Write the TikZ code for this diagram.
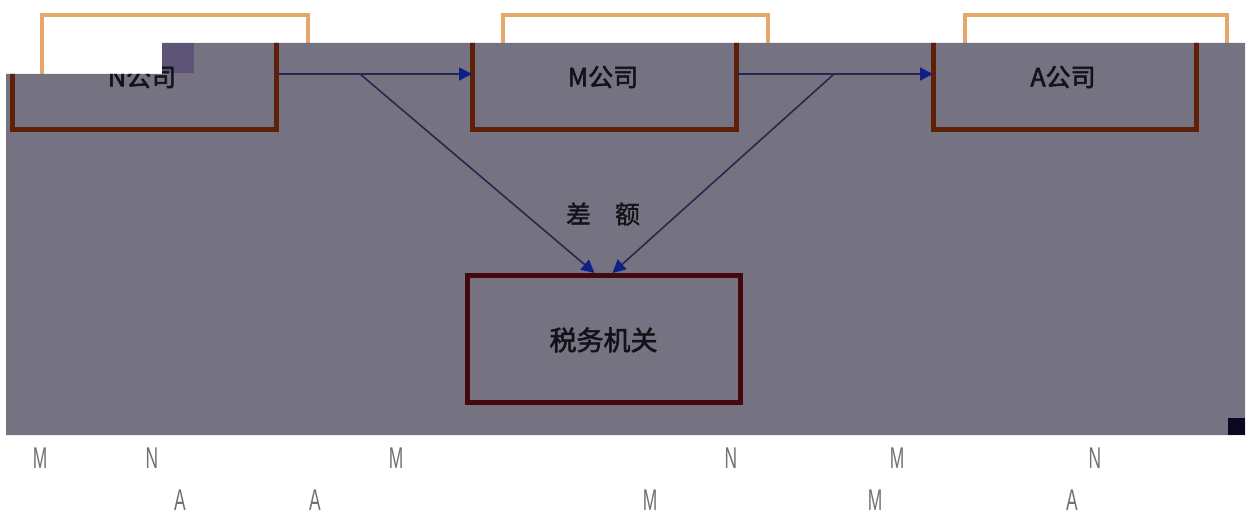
\documentclass[tikz,border=0pt]{standalone}
\usepackage{fontspec}
\usetikzlibrary{arrows.meta}
\newfontfamily\cjk{Noto Sans CJK SC}[FakeBold=1.2]
\newfontfamily\cjkb{Noto Sans CJK SC}[FakeBold=2.2]
\newfontfamily\libsans{Liberation Sans}
\definecolor{bggray}{HTML}{757282}
\definecolor{lorange}{HTML}{E6A86A}
\definecolor{dbrown}{HTML}{5E2006}
\definecolor{maroon}{HTML}{42080E}
\definecolor{navy}{HTML}{262850}
\definecolor{tipblue}{HTML}{101E88}
\definecolor{txt}{HTML}{121218}
\definecolor{letter}{HTML}{707070}
\definecolor{patch}{HTML}{5E5478}
\definecolor{corner}{HTML}{0A0820}
\tikzset{
  company/.style={minimum width=264pt, minimum height=112pt, inner sep=0pt, outer sep=0pt},
  ghost/.style={draw=lorange, line width=4pt},
  brownside/.style={draw=dbrown, line width=5pt},
  taxbox/.style={draw=maroon, line width=5pt, minimum width=273pt, minimum height=127pt, inner sep=0pt, outer sep=0pt},
  boxtext/.style={font=\cjkb\fontsize{25}{25}\selectfont, text=txt},
  flow/.style={draw=navy, line width=1.6pt, -{Triangle[length=13pt,width=13pt,color=tipblue]}},
  letterstyle/.style={font=\libsans\fontsize{30}{30}\selectfont, text=letter, xscale=0.58, inner sep=0pt}
}
\begin{document}
\begin{tikzpicture}[x=1pt,y=-1pt]
\useasboundingbox (0,0) rectangle (1250,516);
% light orange outlines peeking above
\draw[ghost] (42,80) -- (42,15) -- (308,15) -- (308,80);
\draw[ghost] (503,80) -- (503,15) -- (768,15) -- (768,80);
\draw[ghost] (965,80) -- (965,15) -- (1227,15) -- (1227,80);
% gray panel
\fill[bggray] (6,74) -- (162,74) -- (162,43) -- (1245,43) -- (1245,435) -- (6,435) -- cycle;
\fill[patch] (162,43) rectangle (194,73);
\fill[corner] (1228,418) rectangle (1245,435);
% company nodes
\node[company] (N) at (144,74) {};
\node[company] (M) at (604,74) {};
\node[company, minimum width=263pt] (A) at (1064.5,74) {};
\begin{scope}
\clip (6,74) -- (162,74) -- (162,43) -- (1245,43) -- (1245,435) -- (6,435) -- cycle;
\draw[brownside] (N.north west) -- (N.south west) -- (N.south east) -- (N.north east);
\draw[brownside] (M.north west) -- (M.south west) -- (M.south east) -- (M.north east);
\draw[brownside] (A.north west) -- (A.south west) -- (A.south east) -- (A.north east);
\node[boxtext] (Nt) at (142,77) {N公司};
\end{scope}
\node[boxtext] (Mt) at (603,77) {M公司};
\node[boxtext] (At) at (1063,77) {A公司};
% tax office
\node[taxbox] (T) at (603.5,338.5) {};
\node[font=\cjkb\fontsize{27}{27}\selectfont, text=txt] (Tt) at (603.5,340) {税务机关};
\node[font=\cjk\fontsize{25}{25}\selectfont, text=txt] (diff) at (603,214) {差\hspace{24pt}额};
% connectors
\coordinate (s1) at (360,74);
\coordinate (s2) at (834,74);
\coordinate (t1) at ([xshift=-9pt,yshift=2pt]T.north);
\coordinate (t2) at ([xshift=9pt,yshift=2pt]T.north);
\draw[flow] (N.east) -- (M.west);
\draw[flow] (M.east) -- (A.west);
\draw[flow] (s1) -- (t1);
\draw[flow] (s2) -- (t2);
% letters below
\node[letterstyle] (l1) at (40,458) {M};
\node[letterstyle] (l2) at (152,458) {N};
\node[letterstyle] (l3) at (396,458) {M};
\node[letterstyle] (l4) at (731,458) {N};
\node[letterstyle] (l5) at (897,458) {M};
\node[letterstyle] (l6) at (1095,458) {N};
\node[letterstyle] (l7) at (180,500) {A};
\node[letterstyle] (l8) at (315,500) {A};
\node[letterstyle] (l9) at (650,500) {M};
\node[letterstyle] (l10) at (875,500) {M};
\node[letterstyle] (l11) at (1072,500) {A};
\end{tikzpicture}
\end{document}
